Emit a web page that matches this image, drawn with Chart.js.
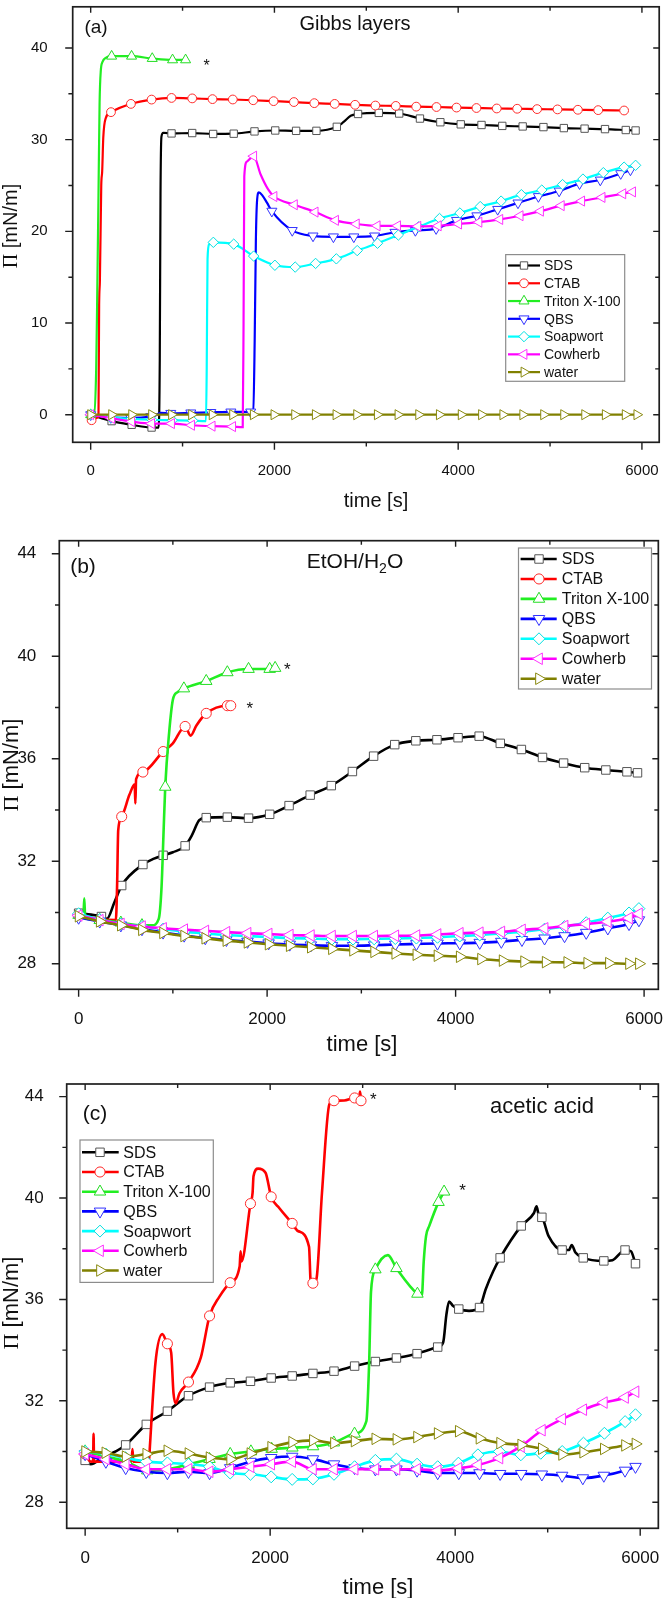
<!DOCTYPE html>
<html><head><meta charset="utf-8">
<script src="https://cdn.jsdelivr.net/npm/chart.js@4/dist/chart.umd.min.js"></script>
<style>
html,body{margin:0;padding:0;background:#fff;width:666px;height:1598px;overflow:hidden}
.p{position:absolute;left:0}
canvas{display:block}
</style></head><body>
<div class="p" style="top:0"><canvas id="ca" width="666" height="530"></canvas></div>
<div class="p" style="top:530px"><canvas id="cb" width="666" height="530"></canvas></div>
<div class="p" style="top:1060px"><canvas id="cc" width="666" height="538"></canvas></div>
<script>
// ---------- series meta ----------
const seriesNames = ['SDS','CTAB','Triton X-100','QBS','Soapwort','Cowherb','water'];
const lineColors = ['#000000','#ff0000','#22ee22','#0000ff','#00ffff','#ff00ff','#808000'];
const markerColors = ['#555555','#ff2a2a','#22dd22','#3333ff','#00e0e0','#ff33ff','#8a8a10'];
const markerStyles = ['rect','circle','triangle','triangle','rectRot','triangle','triangle'];
const markerRotations = [0,0,0,180,0,270,90];
const markerSizes = [5.2,4.4,5.8,5.8,5.2,5.8,5.8];

// ---------- ticks ----------
const xTickValues = [0,2000,4000,6000];
const xTickLabels = ['0','2000','4000','6000'];
const xMinorTicks = [1000,3000,5000];
const a_yTickValues = [0,10,20,30,40];
const a_yTickLabels = ['0','10','20','30','40'];
const a_yMinorTicks = [5,15,25,35];
const bc_yTickValues = [28,32,36,40,44];
const bc_yTickLabels = ['28','32','36','40','44'];
const bc_yMinorTicks = [30,34,38,42];

// ---------- panel (a) Gibbs layers : [time s, Pi mN/m] ----------
const a_SDS_mk = [[0,0],[228,-0.7],[446,-1.1],[663,-1.4],[880,30.68],[1105,30.72],[1333,30.62],[1557,30.65],[1783,30.9],[2009,31.0],[2236,30.96],[2457,30.96],[2679,31.4],[2910,32.8],[3136,32.92],[3358,32.85],[3584,32.3],[3806,31.9],[4028,31.67],[4254,31.6],[4480,31.5],[4702,31.44],[4928,31.37],[5150,31.26],[5376,31.2],[5598,31.15],[5824,31.05],[5931,31.0]];
const a_SDS_ex = [[740,-1.4],[752,6],[760,24],[770,30.3],[790,30.75],[2750,31.9],[2830,32.6]];
const a_CTAB_mk = [[10,-0.6],[221,33.0],[438,33.9],[663,34.37],[880,34.55],[1105,34.5],[1326,34.42],[1547,34.38],[1769,34.3],[1991,34.2],[2212,34.1],[2434,33.98],[2656,33.9],[2878,33.8],[3099,33.72],[3321,33.68],[3543,33.6],[3764,33.56],[3982,33.5],[4199,33.45],[4420,33.4],[4642,33.37],[4859,33.33],[5081,33.3],[5303,33.26],[5524,33.22],[5806,33.18]];
const a_CTAB_ex = [[50,-0.4],[85,-0.2],[92,12],[100,14.5],[115,25],[125,26.5],[137,30.2],[166,32.4]];
const a_Triton_mk = [[0,0],[228,39.1],[445,39.1],[670,38.85],[891,38.7],[1033,38.7]];
const a_Triton_ex = [[40,0],[60,5],[70,12],[85,24],[97,34],[110,37.5],[130,38.5],[160,38.9]];
const a_QBS_mk = [[0,0],[218,-0.3],[436,-0.35],[654,-0.2],[872,0.15],[1090,0.2],[1308,0.25],[1526,0.3],[1742,0.3],[1972,22.2],[2194,20.1],[2420,19.5],[2642,19.4],[2864,19.4],[3090,19.5],[3312,19.9],[3534,20.1],[3760,20.3],[3982,21.2],[4203,21.7],[4430,22.4],[4651,23.1],[4873,23.8],[5099,24.4],[5321,25.2],[5547,25.6],[5769,26.3],[5875,26.7]];
const a_QBS_ex = [[700,-0.1],[760,0.2],[1770,0.35],[1785,8],[1798,19],[1812,23.5],[1830,24.25],[1870,23.9],[1920,23.1]];
const a_Soap_mk = [[0,0],[222,-0.3],[444,-0.45],[666,-0.55],[888,-0.6],[1110,-0.65],[1335,18.8],[1557,18.6],[1774,17.3],[2005,16.3],[2226,16.1],[2448,16.5],[2674,17.0],[2901,17.9],[3122,18.7],[3349,19.6],[3570,20.5],[3797,21.4],[4019,22.0],[4240,22.7],[4467,23.3],[4688,24.0],[4910,24.5],[5136,25.1],[5358,25.7],[5580,26.4],[5806,27.0],[5931,27.2]];
const a_Soap_ex = [[1255,-0.7],[1263,5],[1272,17],[1290,18.6]];
const a_Cow_mk = [[0,0],[228,-0.4],[446,-0.75],[663,-0.97],[880,-0.97],[1098,-1.15],[1322,-1.25],[1545,-1.3],[1774,28.2],[1995,23.8],[2217,22.9],[2443,22.1],[2665,21.2],[2891,20.8],[3118,20.6],[3340,20.6],[3561,20.55],[3783,20.6],[4005,20.8],[4226,21.0],[4453,21.3],[4674,21.7],[4896,22.2],[5122,22.8],[5344,23.3],[5566,23.7],[5792,24.1],[5898,24.3]];
const a_Cow_ex = [[1655,-1.35],[1664,10],[1672,26],[1700,27.6],[1850,26.2],[1930,24.6]];
const a_water_mk = [[0,0],[228,0],[446,0],[663,0],[880,0],[1098,0],[1322,0],[1545,0],[1770,0],[1995,0],[2220,0],[2445,0],[2670,0],[2895,0],[3120,0],[3345,0],[3570,0],[3795,0],[4033,0],[4254,0],[4486,0],[4703,0],[4930,0],[5148,0],[5377,0],[5601,0],[5818,0],[5945,0]];
const a_water_ex = [];
const a_stars = [[1261,38.5]];

// ---------- panel (b) EtOH/H2O ----------
const b_SDS_mk = [[0,29.97],[242,29.84],[457,31.05],[682,31.87],[897,32.23],[1130,32.6],[1354,33.7],[1578,33.72],[1803,33.68],[2027,33.83],[2233,34.17],[2457,34.58],[2681,34.95],[2905,35.5],[3130,36.1],[3354,36.55],[3578,36.7],[3802,36.74],[4026,36.82],[4250,36.88],[4474,36.6],[4698,36.36],[4922,36.05],[5146,35.83],[5370,35.65],[5594,35.56],[5818,35.49],[5930,35.45]];
const b_SDS_ex = [[300,29.75],[380,30.4],[800,32.1],[1000,32.35],[1200,33.0],[1280,33.6]];
const b_CTAB_mk = [[0,29.9],[457,33.74],[682,35.48],[897,36.28],[1130,37.26],[1354,37.77],[1578,38.07],[1614,38.07]];
const b_CTAB_ex = [[200,29.75],[395,29.7],[408,31],[420,33.2],[540,34.6],[595,35.0],[602,34.25],[610,35.2],[1000,36.6],[1188,36.9],[1250,37.3]];
const b_Triton_mk = [[0,29.9],[224,29.7],[448,29.6],[672,29.5],[919,34.9],[1117,38.74],[1354,39.03],[1578,39.37],[1803,39.5],[2027,39.5],[2085,39.54]];
const b_Triton_ex = [[50,29.8],[60,30.55],[70,29.78],[780,29.5],[850,29.75],[880,31.0],[900,33.0],[960,37.0],[1000,38.3],[1050,38.6]];
const b_QBS_mk = [[0,29.8],[224,29.65],[448,29.5],[672,29.35],[896,29.22],[1120,29.1],[1344,29.0],[1568,28.93],[1792,28.86],[2016,28.8],[2240,28.75],[2464,28.72],[2688,28.7],[2912,28.7],[3136,28.72],[3360,28.75],[3584,28.77],[3808,28.79],[4044,28.8],[4256,28.82],[4485,28.86],[4704,28.93],[4944,28.99],[5156,29.08],[5386,29.21],[5615,29.38],[5840,29.55],[5945,29.7]];
const b_QBS_ex = [];
const b_Soap_mk = [[0,29.95],[224,29.72],[448,29.55],[672,29.45],[896,29.35],[1120,29.25],[1344,29.18],[1568,29.12],[1792,29.08],[2016,29.04],[2240,29.0],[2464,28.98],[2688,28.96],[2912,28.96],[3136,28.97],[3360,28.98],[3584,29.0],[3808,29.03],[4044,29.08],[4256,29.12],[4485,29.18],[4704,29.25],[4944,29.35],[5156,29.45],[5386,29.6],[5615,29.78],[5840,29.98],[5945,30.15]];
const b_Soap_ex = [];
const b_Cow_mk = [[0,29.88],[224,29.7],[448,29.55],[672,29.45],[896,29.38],[1120,29.33],[1344,29.28],[1568,29.23],[1792,29.19],[2016,29.16],[2240,29.12],[2464,29.1],[2688,29.08],[2912,29.08],[3136,29.08],[3360,29.09],[3584,29.1],[3808,29.14],[4044,29.19],[4256,29.21],[4485,29.24],[4704,29.32],[4944,29.38],[5156,29.47],[5386,29.55],[5615,29.64],[5840,29.78],[5945,29.95]];
const b_Cow_ex = [];
const b_water_mk = [[0,29.85],[224,29.65],[448,29.5],[672,29.32],[896,29.2],[1120,29.08],[1344,28.99],[1568,28.9],[1792,28.83],[2016,28.76],[2240,28.7],[2464,28.64],[2688,28.58],[2912,28.52],[3136,28.46],[3360,28.4],[3584,28.35],[3808,28.31],[4044,28.27],[4270,28.18],[4499,28.12],[4727,28.08],[4956,28.06],[5185,28.05],[5397,28.02],[5627,28.02],[5840,28.0],[5945,28.0]];
const b_water_ex = [];
const b_stars = [[2215,39.65],[1816,38.13]];

// ---------- panel (c) acetic acid ----------
const c_SDS_mk = [[0,29.65],[438,30.26],[661,31.07],[889,31.59],[1117,32.2],[1345,32.54],[1568,32.71],[1787,32.77],[2011,32.9],[2238,32.98],[2462,33.08],[2690,33.17],[2913,33.37],[3137,33.55],[3365,33.69],[3588,33.86],[3811,34.12],[4039,35.62],[4263,35.68],[4486,37.64],[4714,38.9],[4937,39.24],[5156,37.95],[5384,37.64],[5607,37.52],[5836,37.95],[5949,37.41]];
const c_SDS_ex = [[60,29.5],[200,29.8],[300,29.95],[3870,34.3],[3905,35.4],[3934,35.92],[3975,35.75],[4150,35.55],[4330,36.4],[4410,37.1],[4850,39.4],[4880,39.67],[4905,39.3],[5010,38.5],[5230,37.95],[5260,38.15],[5300,37.85],[5700,37.55],[5900,37.9]];
const c_CTAB_mk = [[0,29.9],[889,34.25],[1117,32.74],[1345,35.35],[1568,36.66],[1787,39.78],[2011,40.05],[2238,39.0],[2462,36.64],[2690,43.84],[2913,43.95],[2982,43.84]];
const c_CTAB_ex = [[60,29.6],[86,29.6],[91,30.7],[96,29.6],[500,29.6],[512,30.1],[520,29.6],[690,29.6],[700,30.2],[760,33.5],[834,34.63],[930,33.9],[955,32.3],[980,31.9],[1020,32.3],[1250,33.7],[1450,36.1],[1670,37.3],[1680,37.9],[1690,37.5],[1810,40.2],[1820,40.86],[1870,41.16],[1950,41.0],[2100,39.6],[2300,38.7],[2420,38.08],[2440,36.6],[2500,36.8],[2560,40.2],[2640,43.7],[2800,43.85],[2960,43.9],[2972,44.2]];
const c_Triton_mk = [[0,30.0],[224,29.8],[448,29.6],[672,29.25],[896,29.3],[1120,29.5],[1344,29.7],[1568,29.9],[1792,30.0],[2016,30.1],[2240,30.15],[2464,30.2],[2688,30.35],[2912,30.7],[3137,37.18],[3365,37.23],[3592,36.22],[3820,39.84],[3880,40.25]];
const c_Triton_ex = [[3040,31.2],[3070,33.5],[3090,36.3],[3273,37.75],[3640,36.15],[3660,37.5],[3685,38.5],[3720,38.9]];
const c_QBS_mk = [[0,29.9],[224,29.6],[438,29.35],[661,29.2],[889,29.15],[1117,29.2],[1345,29.15],[1568,29.35],[1787,29.6],[2011,29.75],[2238,29.8],[2462,29.7],[2690,29.5],[2913,29.35],[3137,29.3],[3365,29.3],[3588,29.25],[3811,29.15],[4039,29.15],[4263,29.15],[4486,29.12],[4714,29.12],[4937,29.1],[5156,29.05],[5380,28.95],[5607,29.05],[5836,29.25],[5949,29.4]];
const c_QBS_ex = [];
const c_Soap_mk = [[0,30.0],[224,29.9],[438,29.75],[661,29.6],[889,29.55],[1117,29.5],[1345,29.4],[1568,29.15],[1787,29.1],[2011,29.0],[2238,28.9],[2462,28.92],[2690,29.1],[2913,29.4],[3137,29.65],[3365,29.7],[3588,29.5],[3811,29.4],[4035,29.54],[4246,29.87],[4478,30.0],[4710,29.87],[4925,29.93],[5157,30.0],[5387,30.33],[5613,30.72],[5837,31.18],[5949,31.45]];
const c_Soap_ex = [];
const c_Cow_mk = [[0,29.9],[224,29.7],[438,29.5],[661,29.3],[889,29.3],[1117,29.3],[1345,29.2],[1568,29.3],[1787,29.4],[2011,29.5],[2238,29.6],[2462,29.3],[2690,29.3],[2913,29.3],[3137,29.3],[3365,29.3],[3588,29.3],[3811,29.25],[4035,29.34],[4246,29.47],[4478,29.74],[4710,30.2],[4937,30.84],[5156,31.28],[5384,31.65],[5607,31.93],[5836,32.13],[5949,32.36]];
const c_Cow_ex = [];
const c_water_mk = [[0,30.0],[219,29.95],[438,29.8],[661,29.9],[889,30.03],[1117,29.92],[1345,29.76],[1568,29.69],[1787,29.92],[2011,30.17],[2238,30.37],[2462,30.44],[2690,30.33],[2913,30.41],[3137,30.5],[3365,30.48],[3588,30.57],[3811,30.71],[4039,30.8],[4263,30.52],[4486,30.33],[4714,30.26],[4937,30.11],[5156,29.88],[5384,29.97],[5607,30.1],[5836,30.24],[5949,30.3]];
const c_water_ex = [];
const c_stars = [[3114,44.04],[4080,40.45]];

// ---------- drawing ----------
const FONT = "'Liberation Sans', Arial, Helvetica, sans-serif";
const SERIF = "'Liberation Serif', 'Times New Roman', serif";
const TXT = '#111111';

function pts(mk, ex) {
  return mk.concat(ex || []).sort((p, q) => p[0] - q[0]).map(p => ({x: p[0], y: p[1]}));
}

function decoPlugin(L) {
  return {
    id: 'deco',
    afterDraw(chart) {
      const ctx = chart.ctx, a = chart.chartArea, xs = chart.scales.x, ys = chart.scales.y;
      ctx.save();
      ctx.strokeStyle = '#1e1e1e'; ctx.lineWidth = 1.7;
      ctx.strokeRect(a.left, a.top, a.right - a.left, a.bottom - a.top);
      ctx.lineWidth = 1.4;
      ctx.beginPath();
      const xt = (v, out, inn) => { const p = xs.getPixelForValue(v); ctx.moveTo(p, a.bottom); ctx.lineTo(p, a.bottom + out); ctx.moveTo(p, a.top); ctx.lineTo(p, a.top + inn); };
      const yt = (v, out, inn) => { const p = ys.getPixelForValue(v); ctx.moveTo(a.left, p); ctx.lineTo(a.left - out, p); ctx.moveTo(a.right, p); ctx.lineTo(a.right - inn, p); };
      L.xMajor.forEach(v => xt(v, 7.5, 6));
      L.xMinor.forEach(v => xt(v, 4.3, 4));
      L.yMajor.forEach(v => yt(v, 7.5, 6));
      L.yMinor.forEach(v => yt(v, 4.3, 4));
      ctx.stroke();
      ctx.fillStyle = TXT;
      ctx.font = `${L.xTitle.size}px ${FONT}`;
      ctx.textAlign = 'center'; ctx.textBaseline = 'alphabetic';
      ctx.fillText('time [s]', L.xTitle.x, L.xTitle.y);
      ctx.save();
      ctx.translate(L.yTitle.x, L.yTitle.y); ctx.rotate(-Math.PI / 2);
      const fs = L.yTitle.size;
      ctx.font = `${fs}px ${SERIF}`; const w1 = ctx.measureText('\u03A0').width;
      ctx.font = `${fs}px ${FONT}`; const w2 = ctx.measureText(' [mN/m]').width;
      const x0 = -(w1 + w2) / 2;
      ctx.textAlign = 'left'; ctx.textBaseline = 'alphabetic';
      ctx.font = `${fs}px ${SERIF}`; ctx.fillText('\u03A0', x0, 0);
      ctx.font = `${fs}px ${FONT}`; ctx.fillText(' [mN/m]', x0 + w1, 0);
      ctx.restore();
      ctx.textBaseline = 'middle'; ctx.textAlign = 'center';
      ctx.font = `${L.letter.size}px ${FONT}`;
      ctx.fillText(L.letter.text, L.letter.x, L.letter.y);
      if (L.heading.sub) {
        const s = L.heading.size, ss = Math.round(s * 0.68);
        ctx.font = `${s}px ${FONT}`;
        const p1 = L.heading.text, p2 = L.heading.sub, p3 = L.heading.after;
        const wa = ctx.measureText(p1).width, wc = ctx.measureText(p3).width;
        ctx.font = `${ss}px ${FONT}`; const wb = ctx.measureText(p2).width;
        const hx = L.heading.x - (wa + wb + wc) / 2;
        ctx.textAlign = 'left';
        ctx.font = `${s}px ${FONT}`; ctx.fillText(p1, hx, L.heading.y);
        ctx.font = `${ss}px ${FONT}`; ctx.fillText(p2, hx + wa, L.heading.y + s * 0.32);
        ctx.font = `${s}px ${FONT}`; ctx.fillText(p3, hx + wa + wb, L.heading.y);
      } else {
        ctx.font = `${L.heading.size}px ${FONT}`;
        ctx.fillText(L.heading.text, L.heading.x, L.heading.y);
      }
      ctx.textAlign = 'center'; ctx.textBaseline = 'alphabetic';
      ctx.font = `${L.starSize}px ${FONT}`;
      L.stars.forEach(s => {
        ctx.fillText('*', xs.getPixelForValue(s[0]), ys.getPixelForValue(s[1]) + 0.57 * L.starSize);
      });
      const G = L.legend;
      ctx.fillStyle = '#ffffff';
      ctx.fillRect(G.x0, G.y0, G.x1 - G.x0, G.y1 - G.y0);
      ctx.strokeStyle = '#8c8c8c'; ctx.lineWidth = 1.2;
      ctx.strokeRect(G.x0, G.y0, G.x1 - G.x0, G.y1 - G.y0);
      seriesNames.forEach((name, k) => {
        const yy = G.row0 + k * G.dy;
        ctx.strokeStyle = lineColors[k]; ctx.lineWidth = L.lw;
        ctx.beginPath(); ctx.moveTo(G.l0, yy); ctx.lineTo(G.l1, yy); ctx.stroke();
        ctx.fillStyle = '#ffffff'; ctx.strokeStyle = markerColors[k]; ctx.lineWidth = 1;
        Chart.helpers.drawPoint(ctx, {pointStyle: markerStyles[k], rotation: markerRotations[k], radius: markerSizes[k] * L.ms, borderWidth: 1}, G.mk, yy);
        ctx.fillStyle = TXT; ctx.font = `${G.font}px ${FONT}`;
        ctx.textAlign = 'left'; ctx.textBaseline = 'middle';
        ctx.fillText(name, G.tx, yy + 1);
      });
      ctx.restore();
    }
  };
}

function makeChart(id, L) {
  const datasets = [];
  L.series.forEach((s, k) => {
    datasets.push({
      data: pts(s[0], s[1]), borderColor: lineColors[k], borderWidth: L.lw,
      pointRadius: 0, pointHoverRadius: 0, pointHitRadius: 0,
      cubicInterpolationMode: 'monotone', fill: false, order: 100 - 2 * k
    });
    datasets.push({
      data: pts(s[0]), showLine: false,
      pointStyle: markerStyles[k], pointRotation: markerRotations[k],
      pointRadius: markerSizes[k] * L.ms, pointHoverRadius: markerSizes[k] * L.ms,
      pointBackgroundColor: '#ffffff', pointBorderColor: markerColors[k], pointBorderWidth: 1,
      order: 99 - 2 * k
    });
  });
  const W = 666;
  return new Chart(document.getElementById(id), {
    type: 'line',
    data: {datasets},
    options: {
      responsive: false, animation: false, devicePixelRatio: 1, events: [],
      layout: {padding: {left: 0, top: L.area.t, right: W - L.area.r, bottom: 0}},
      plugins: {legend: {display: false}, tooltip: {enabled: false}, title: {display: false}},
      scales: {
        x: {
          type: 'linear', min: L.xmin, max: L.xmax,
          grid: {display: false}, border: {display: false},
          afterFit: s => { s.height = L.H - L.area.b; s.paddingLeft = 0; s.paddingRight = 0; },
          afterBuildTicks: s => { s.ticks = xTickValues.map(v => ({value: v})); },
          ticks: {font: {family: FONT, size: L.tf}, color: TXT, padding: L.xpad, maxRotation: 0, minRotation: 0, autoSkip: false,
                  callback: (v, i) => xTickLabels[i]}
        },
        y: {
          type: 'linear', min: L.ymin, max: L.ymax,
          grid: {display: false}, border: {display: false},
          afterFit: s => { s.width = L.area.l; s.paddingTop = 0; s.paddingBottom = 0; },
          afterBuildTicks: s => { s.ticks = L.yTicks.map(v => ({value: v})); },
          ticks: {font: {family: FONT, size: L.tf}, color: TXT, padding: L.ypad, autoSkip: false,
                  callback: (v, i) => L.yLabels[i]}
        }
      }
    },
    plugins: [decoPlugin(L)]
  });
}

makeChart('ca', {
  H: 530, area: {l: 72.7, t: 1, r: 660, b: 442.3},
  xmin: -195.7, xmax: 6188, ymin: -3.01, ymax: 44.49,
  tf: 15, xpad: 11.4, ypad: 17, lw: 2.2, ms: 1,
  yTicks: a_yTickValues, yLabels: a_yTickLabels,
  xMajor: xTickValues, xMinor: xMinorTicks, yMajor: a_yTickValues, yMinor: a_yMinorTicks,
  xTitle: {x: 376, y: 507, size: 20}, yTitle: {x: 17, y: 226, size: 20},
  letter: {text: '(a)', x: 96, y: 28, size: 19},
  heading: {text: 'Gibbs layers', x: 355, y: 24, size: 20},
  stars: a_stars, starSize: 16,
  legend: {x0: 505.7, y0: 254.6, x1: 624.7, y1: 381.3, row0: 265.5, dy: 17.77, l0: 508, l1: 540, mk: 524, tx: 544, font: 14},
  series: [[a_SDS_mk, a_SDS_ex], [a_CTAB_mk, a_CTAB_ex], [a_Triton_mk, a_Triton_ex], [a_QBS_mk, a_QBS_ex], [a_Soap_mk, a_Soap_ex], [a_Cow_mk, a_Cow_ex], [a_water_mk, a_water_ex]]
});

makeChart('cb', {
  H: 530, area: {l: 59.3, t: 10.7, r: 660, b: 459.3},
  xmin: -205, xmax: 6151, ymin: 27.0, ymax: 44.51,
  tf: 17, xpad: 12.2, ypad: 15, lw: 2.6, ms: 1.15,
  yTicks: bc_yTickValues, yLabels: bc_yTickLabels,
  xMajor: xTickValues, xMinor: xMinorTicks, yMajor: bc_yTickValues, yMinor: bc_yMinorTicks,
  xTitle: {x: 362, y: 521, size: 22}, yTitle: {x: 18, y: 235, size: 22},
  letter: {text: '(b)', x: 83, y: 37, size: 21},
  heading: {text: 'EtOH/H', sub: '2', after: 'O', x: 355, y: 32, size: 21},
  stars: b_stars, starSize: 17,
  legend: {x0: 518.5, y0: 18, x1: 651.5, y1: 159, row0: 29, dy: 19.95, l0: 520.6, l1: 556.7, mk: 539, tx: 561.8, font: 16},
  series: [[b_SDS_mk, b_SDS_ex], [b_CTAB_mk, b_CTAB_ex], [b_Triton_mk, b_Triton_ex], [b_QBS_mk, b_QBS_ex], [b_Soap_mk, b_Soap_ex], [b_Cow_mk, b_Cow_ex], [b_water_mk, b_water_ex]]
});

makeChart('cc', {
  H: 538, area: {l: 66.7, t: 24, r: 663.3, b: 468.3},
  xmin: -199.4, xmax: 6196, ymin: 26.97, ymax: 44.5,
  tf: 17, xpad: 11.5, ypad: 15, lw: 2.6, ms: 1.15,
  yTicks: bc_yTickValues, yLabels: bc_yTickLabels,
  xMajor: xTickValues, xMinor: xMinorTicks, yMajor: bc_yTickValues, yMinor: bc_yMinorTicks,
  xTitle: {x: 378, y: 533.5, size: 22}, yTitle: {x: 18, y: 243, size: 22},
  letter: {text: '(c)', x: 95, y: 54, size: 21},
  heading: {text: 'acetic acid', x: 542, y: 47, size: 22},
  stars: c_stars, starSize: 17,
  legend: {x0: 80, y0: 80, x1: 213.3, y1: 222.4, row0: 92.3, dy: 19.7, l0: 82, l1: 118.7, mk: 100, tx: 123.3, font: 16},
  series: [[c_SDS_mk, c_SDS_ex], [c_CTAB_mk, c_CTAB_ex], [c_Triton_mk, c_Triton_ex], [c_QBS_mk, c_QBS_ex], [c_Soap_mk, c_Soap_ex], [c_Cow_mk, c_Cow_ex], [c_water_mk, c_water_ex]]
});
</script>
</body></html>
